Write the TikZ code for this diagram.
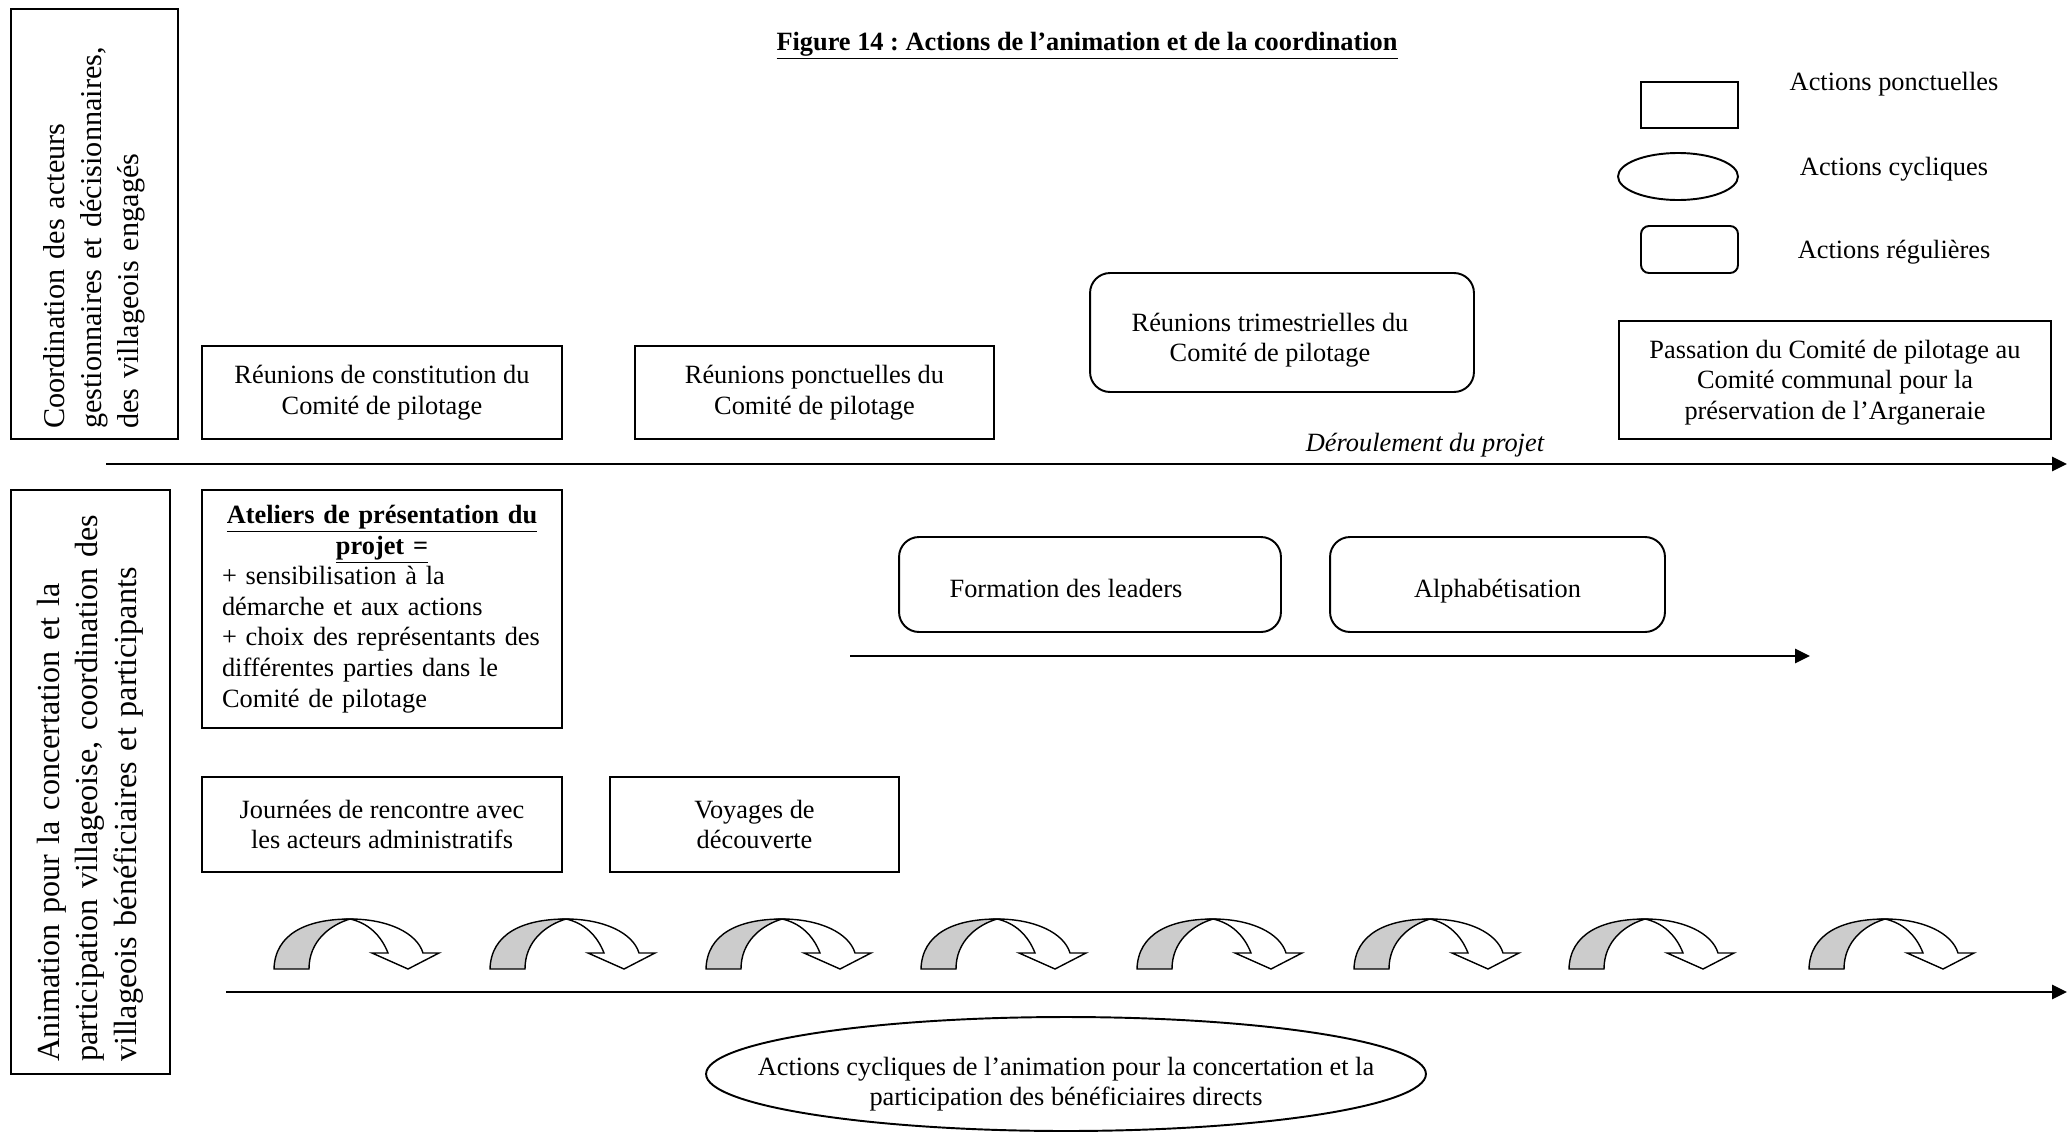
\documentclass[tikz,border=0pt]{standalone}
\usepackage{fontspec}
\setmainfont{Liberation Serif}
\usetikzlibrary{shapes.geometric,arrows.meta}

\definecolor{grisfleche}{RGB}{204,204,204}
\newcommand{\txtnormal}{\fontsize{15}{17.4}\selectfont}
\newcommand{\descente}[1]{\rule{0pt}{#1}}
\frenchspacing

\tikzset{
  ponctuelle/.style={draw, rectangle, line width=1.1pt, align=center, inner sep=0pt, font=\txtnormal},
  reguliere/.style={draw, rectangle, rounded corners=0.4cm, line width=1.1pt, align=center, inner sep=0pt, font=\txtnormal},
  cyclique/.style={draw, ellipse, line width=1.1pt, align=center, inner sep=0pt, inner xsep=-1.5cm, font=\txtnormal},
  lateral/.style={draw, rotate=90, line width=1.1pt, align=left, inner sep=0pt},
  axe/.style={line width=1.6pt, -{Triangle[length=0.3cm,width=0.28cm]}},
  flechecycle/.pic={
    \draw [line width=0.8pt, fill=grisfleche] (0,0) .. controls (1,-36) and (34,-50) .. (76,-50)
          .. controls (56,-44) and (35,-28) .. (35,0) -- cycle;
    \draw [line width=0.8pt, fill=white] (76,-50) .. controls (114,-50) and (143,-36) .. (149,-16)
          -- (165,-16) -- (134,0) -- (98,-16) -- (114,-16) .. controls (107,-34) and (94,-46) .. (76,-50) -- cycle;
  }
}

\begin{document}
\begin{tikzpicture}[x=0.02cm, y=-0.02cm]

\useasboundingbox (0,0) rectangle (2069,1136);


\node [font=\bfseries\txtnormal, anchor=base] (titre) at (1087,50){\underline{Figure 14 : Actions de l’animation et de la coordination}};


% legende
\node [ponctuelle, minimum width=1.94cm, minimum height=0.92cm] (leg-pct) at (1689.5,105){};
\node [font=\txtnormal, anchor=base] (leg-txt-pct) at (1894,90){Actions ponctuelles};

\node [cyclique, inner xsep=0pt, minimum width=2.4cm, minimum height=0.94cm] (leg-cyc) at (1678,176.5){};
\node [font=\txtnormal, anchor=base] (leg-txt-cyc) at (1894,175){Actions cycliques};

\node [reguliere, rounded corners=0.16cm, minimum width=1.94cm, minimum height=0.94cm] (leg-reg) at (1689.5,249.5){};
\node [font=\txtnormal, anchor=base] (leg-txt-reg) at (1894,258){Actions régulières};



\node [lateral, font=\fontsize{17.2}{21}\selectfont, minimum width=8.6cm, minimum height=3.35cm, text width=8.2cm] (coord-axe) at (94.3,224){Coordination des acteurs\\ gestionnaires et décisionnaires,\\ des villageois engagés};

\node [ponctuelle, minimum width=7.2cm, minimum height=1.86cm] (coord-constitution) at (382,392.5){Réunions de constitution du\\ Comité de pilotage};

\node [ponctuelle, minimum width=7.18cm, minimum height=1.86cm] (coord-ponctuelles) at (814.5,392.5){Réunions ponctuelles du\\ Comité de pilotage};

\node [reguliere, minimum width=7.68cm, minimum height=2.38cm] (coord-trimestrielles) at (1282,332.5){\descente{19pt}Réunions trimestrielles du\hspace*{0.48cm}\\ Comité de pilotage\hspace*{0.48cm}};

\node [ponctuelle, minimum width=8.64cm, minimum height=2.36cm] (coord-passation) at (1835,380){\descente{13pt}Passation du Comité de pilotage au\\ Comité communal pour la\\ préservation de l’Arganeraie};


\coordinate (axe-debut) at (106,464);
\coordinate (axe-fin) at (2067,464);
\draw [axe]   (axe-debut) -- (axe-fin);
\node [font=\itshape\txtnormal, anchor=base] (axe-label) at (1425,451){Déroulement du projet};



\node [lateral, font=\fontsize{18.3}{21.8}\selectfont, minimum width=11.69cm, minimum height=3.19cm, text width=11.21cm] (anim-axe) at (90.3,781.75){Animation pour la concertation et la\\ participation villageoise, coordination des\\ villageois bénéficiaires et participants};

\node [ponctuelle, minimum width=7.2cm, minimum height=4.77cm, text width=6.4cm, align=left] (anim-ateliers) at (382,609){\makebox[\linewidth][c]{\textbf{\underline{Ateliers de présentation du}}}\\ \makebox[\linewidth][c]{\textbf{\underline{projet =}}}\\ + sensibilisation à la\\ démarche et aux actions\\ + choix des représentants des\\ différentes parties dans le\\ Comité de pilotage};

\node [reguliere, minimum width=7.64cm, minimum height=1.9cm, text height=20pt, text depth=5pt] (anim-leaders) at (1090,584.5){Formation des leaders\hspace*{0.96cm}};

\node [reguliere, minimum width=6.7cm, minimum height=1.9cm, text height=20pt, text depth=5pt] (anim-alpha) at (1497.5,584.5){Alphabétisation};

\coordinate (regul-debut) at (850,656);
\coordinate (regul-fin) at (1810,656);
\draw [axe]   (regul-debut) -- (regul-fin);

\node [ponctuelle, minimum width=7.2cm, minimum height=1.9cm] (anim-journees) at (382,824.5){Journées de rencontre avec\\ les acteurs administratifs};

\node [ponctuelle, minimum width=5.78cm, minimum height=1.9cm] (anim-voyages) at (754.5,824.5){Voyages de\\ découverte};



\foreach \x in {274,490,706,921,1137,1354,1569,1809}
  \pic at (\x,969) {flechecycle};

\coordinate (cycle-debut) at (226,992);
\coordinate (cycle-fin) at (2067,992);
\draw [axe]   (cycle-debut) -- (cycle-fin);

\node [cyclique, minimum width=14.4cm, minimum height=2.28cm] (anim-cycliques) at (1066,1074){\descente{22pt}Actions cycliques de l’animation pour la concertation et la\\ participation des bénéficiaires directs};


%%%%%%%%%%%%%%%%%%%%%%%%%%%%%%%%%%%%%%%%%%%%%%%%%%%%%%%%%%%%%%%%%

\end{tikzpicture}
\end{document}
